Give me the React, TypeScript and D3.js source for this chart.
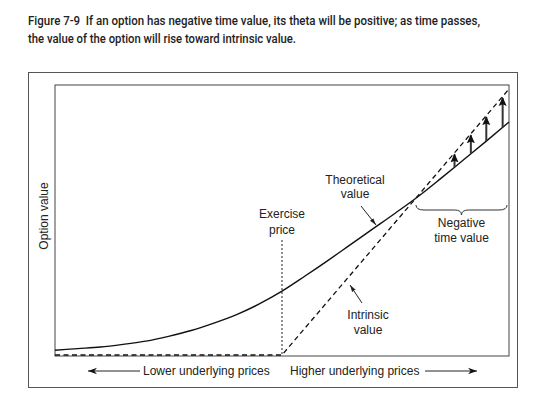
import React from "react";
import * as d3 from "d3";

// Underlying price (arbitrary units) and option values
const underlying = [0, 5, 10, 15, 20, 25, 30, 35, 40, 45, 50, 55, 60, 65, 70, 75, 80, 85, 90, 95, 100];
const theoretical = [0.9, 1.2, 1.5, 2.0, 2.6, 3.5, 4.6, 6.0, 7.6, 9.6, 12.0, 14.8, 17.7, 20.7, 23.7, 26.7, 29.8, 33.2, 36.7, 40.2, 43.8];
const exercisePrice = 50;
const intrinsicX = [0, exercisePrice, 100];
const arrowX = [88, 91.6, 95, 98.6];
const titleLines = [
  "Figure 7-9  If an option has negative time value, its theta will be positive; as time passes,",
  "the value of the option will rise toward intrinsic value.",
];
const titleWidths = [452, 268];

const FONT = "'Liberation Sans', Arial, Helvetica, sans-serif";

export default function App() {
  const W = 540, H = 414;
  const x = d3.scaleLinear().domain([0, 100]).range([55, 509]);
  const y = d3.scaleLinear().domain([0, 50]).range([355, 89]);

  const theoData = underlying.map((u, i) => [u, theoretical[i]] as [number, number]);
  const line = d3.line<[number, number]>().x(d => x(d[0])).y(d => y(d[1])).curve(d3.curveMonotoneX);
  const intrinsic = (u: number) => Math.max(0, u - exercisePrice);
  const intrData = intrinsicX.map(u => [u, intrinsic(u)] as [number, number]);
  const lineLin = d3.line<[number, number]>().x(d => x(d[0])).y(d => y(d[1]));
  const theoAt = d3.scaleLinear().domain(underlying).range(theoretical);

  const ex = x(exercisePrice);
  const braceL = 416, braceR = 507, braceY = 205, braceMid = (braceL + braceR) / 2;
  const bracePath = `M${braceL},${braceY} q0,5 8,5 L${braceMid - 7},${braceY + 5} q7,0 7,5 q0,-5 7,-5 L${braceR - 8},${braceY + 5} q8,0 8,-5`;

  const txt = { fontFamily: FONT, fontSize: 12, fill: "#222" } as const;

  return (
    <svg width={W} height={H} style={{ position: "absolute", left: 0, top: 0, background: "#fff" }}>
      <defs>
        <marker id="ah" viewBox="0 0 10 10" refX="10" refY="5" markerWidth="9" markerHeight="9" orient="auto" markerUnits="userSpaceOnUse">
          <path d="M0,1.5 L10,5 L0,8.5 L3,5 Z" fill="#111" />
        </marker>
        <marker id="ahs" viewBox="0 0 10 10" refX="10" refY="5" markerWidth="7" markerHeight="7" orient="auto" markerUnits="userSpaceOnUse">
          <path d="M0,2 L10,5 L0,8 Z" fill="#222" />
        </marker>
        <marker id="ahv" viewBox="0 0 10 10" refX="9" refY="5" markerWidth="9" markerHeight="9" orient="auto" markerUnits="userSpaceOnUse">
          <path d="M0,0.5 L10,5 L0,9.5 L2,5 Z" fill="#111" />
        </marker>
      </defs>

      {/* Title */}
      {titleLines.map((t, i) => (
        <text key={i} x={28} y={25 + i * 17.5} fontFamily="Roboto, 'Open Sans', sans-serif" fontSize={13} fontWeight={500} fill="#222"
          textLength={titleWidths[i]} lengthAdjust="spacingAndGlyphs" style={{ whiteSpace: "pre" }}>
          {t}
        </text>
      ))}

      {/* Frames */}
      <rect x={28.5} y={72.5} width={489} height={315} fill="none" stroke="#555" strokeWidth={1} />
      <rect x={55} y={85} width={454} height={271} fill="none" stroke="#444" strokeWidth={1} />

      {/* Y label */}
      <text transform="translate(48,216) rotate(-90)" textAnchor="middle" {...txt}>Option value</text>

      {/* Exercise price dotted line */}
      <line x1={ex} x2={ex} y1={240} y2={355} stroke="#777" strokeWidth={1.6} strokeDasharray="2,2" />
      <text x={ex} y={218} textAnchor="middle" {...txt}>Exercise</text>
      <text x={ex} y={234} textAnchor="middle" {...txt}>price</text>

      {/* Intrinsic value (dashed) */}
      <path d={lineLin(intrData) || ""} fill="none" stroke="#111" strokeWidth={1.3} strokeDasharray="5,3.5" />

      {/* Theoretical value curve */}
      <path d={line(theoData) || ""} fill="none" stroke="#111" strokeWidth={1.4} />

      {/* Upward arrows: theoretical -> intrinsic */}
      {arrowX.map((u, i) => (
        <line key={i} x1={x(u)} x2={x(u)} y1={y(theoAt(u))} y2={y(intrinsic(u)) + 1.5}
          stroke="#333" strokeWidth={2} markerEnd="url(#ahv)" />
      ))}

      {/* Theoretical value label */}
      <text x={355} y={184} textAnchor="middle" {...txt}>Theoretical</text>
      <text x={355} y={198} textAnchor="middle" {...txt}>value</text>
      <line x1={361} y1={206} x2={376} y2={225} stroke="#222" strokeWidth={1} markerEnd="url(#ahs)" />

      {/* Intrinsic value label */}
      <text x={368} y={319} textAnchor="middle" {...txt}>Intrinsic</text>
      <text x={368} y={334} textAnchor="middle" {...txt}>value</text>
      <line x1={362} y1={303} x2={350} y2={285} stroke="#222" strokeWidth={1} markerEnd="url(#ahs)" />

      {/* Negative time value brace */}
      <path d={bracePath} fill="none" stroke="#333" strokeWidth={1} />
      <text x={braceMid} y={227} textAnchor="middle" {...txt}>Negative</text>
      <text x={braceMid} y={242} textAnchor="middle" {...txt}>time value</text>

      {/* Bottom direction labels */}
      <line x1={140} y1={371} x2={88} y2={371} stroke="#222" strokeWidth={1} markerEnd="url(#ah)" />
      <text x={143} y={375} {...txt}>Lower underlying prices</text>
      <text x={290} y={375} {...txt}>Higher underlying prices</text>
      <line x1={425} y1={371} x2={477} y2={371} stroke="#222" strokeWidth={1} markerEnd="url(#ah)" />
    </svg>
  );
}
